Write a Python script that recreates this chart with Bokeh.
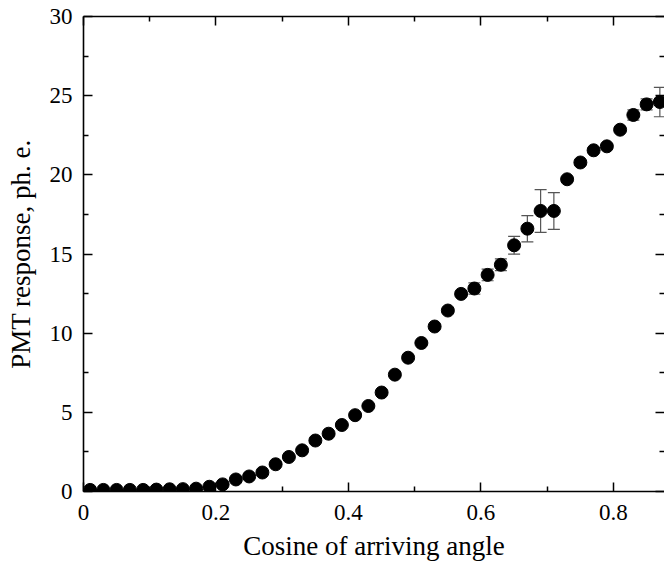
from bokeh.plotting import figure
from bokeh.models import (LinearAxis, Whisker, ColumnDataSource, Range1d,
                          FixedTicker, TeeHead)
from bokeh.embed import file_html
from bokeh.resources import INLINE

cos_angle = [0.01, 0.03, 0.05, 0.07, 0.09, 0.11, 0.13, 0.15, 0.17, 0.19,
             0.21, 0.23, 0.25, 0.27, 0.29, 0.31, 0.33, 0.35, 0.37, 0.39,
             0.41, 0.43, 0.45, 0.47, 0.49, 0.51, 0.53, 0.55, 0.57, 0.59,
             0.61, 0.63, 0.65, 0.67, 0.69, 0.71, 0.73, 0.75, 0.77, 0.79,
             0.81, 0.83, 0.85, 0.87]
response = [0.10, 0.10, 0.10, 0.10, 0.10, 0.12, 0.14, 0.15, 0.18, 0.30,
            0.45, 0.76, 0.95, 1.20, 1.72, 2.18, 2.60, 3.22, 3.65, 4.20,
            4.82, 5.40, 6.25, 7.38, 8.45, 9.38, 10.42, 11.43, 12.48, 12.82,
            13.68, 14.32, 15.55, 16.60, 17.72, 17.72, 19.72, 20.78, 21.55, 21.80,
            22.85, 23.78, 24.45, 24.60]
error = [0.02, 0.02, 0.02, 0.02, 0.02, 0.02, 0.02, 0.02, 0.03, 0.04,
         0.05, 0.06, 0.07, 0.08, 0.09, 0.10, 0.10, 0.10, 0.10, 0.10,
         0.10, 0.10, 0.10, 0.12, 0.12, 0.12, 0.12, 0.15, 0.15, 0.36,
         0.37, 0.37, 0.56, 0.83, 1.35, 1.16, 0.15, 0.15, 0.15, 0.15,
         0.15, 0.32, 0.35, 0.93]

x_major = [0.0, 0.2, 0.4, 0.6, 0.8]
x_minor = [0.1, 0.3, 0.5, 0.7]
y_major = [0, 5, 10, 15, 20, 25, 30]
y_minor = [2.5, 7.5, 12.5, 17.5, 22.5, 27.5]

x_title = "Cosine of arriving angle"
y_title = "PMT response, ph. e."

FONT = "Liberation Serif"

src = ColumnDataSource(dict(
    x=cos_angle, y=response,
    upper=[r + e for r, e in zip(response, error)],
    lower=[r - e for r, e in zip(response, error)],
))

p = figure(width=664, height=567, output_backend="svg", toolbar_location=None,
           x_range=Range1d(0, 0.877), y_range=Range1d(0, 30),
           x_axis_location=None, y_axis_location=None,
           min_border_left=83, min_border_right=0, min_border_top=16,
           min_border_bottom=76)
p.outline_line_color = None
p.xgrid.visible = False
p.ygrid.visible = False
p.background_fill_color = "white"
p.border_fill_color = "white"

xt = FixedTicker(ticks=x_major, minor_ticks=x_minor)
yt = FixedTicker(ticks=y_major, minor_ticks=y_minor)


def style(ax, labels):
    ax.axis_line_width = 1.6
    ax.axis_line_color = "black"
    ax.major_tick_in = 9
    ax.major_tick_out = 0
    ax.minor_tick_in = 5
    ax.minor_tick_out = 0
    ax.major_tick_line_width = 1.5
    ax.minor_tick_line_width = 1.5
    ax.major_tick_line_color = "black"
    ax.minor_tick_line_color = "black"
    if labels:
        ax.major_label_text_font = FONT
        ax.major_label_text_font_size = "23px"
        ax.major_label_text_color = "black"
        ax.axis_label_text_font = FONT
        ax.axis_label_text_font_size = "27px"
        ax.axis_label_text_font_style = "normal"
        ax.axis_label_text_color = "black"
    else:
        ax.major_label_text_font_size = "0px"
        ax.major_label_text_color = None
        ax.major_label_standoff = 0


bottom = LinearAxis(ticker=xt, axis_label=x_title)
style(bottom, True)
bottom.major_label_standoff = 13
bottom.axis_label_standoff = 8
p.add_layout(bottom, "below")

left = LinearAxis(ticker=yt, axis_label=y_title)
style(left, True)
left.major_label_standoff = 11
left.axis_label_standoff = 11
p.add_layout(left, "left")

top = LinearAxis(ticker=xt)
style(top, False)
p.add_layout(top, "above")

right = LinearAxis(ticker=yt)
style(right, False)
right.axis_line_color = None
p.add_layout(right, "right")

p.add_layout(Whisker(source=src, base="x", upper="upper", lower="lower",
                     dimension="height", line_color="#555555", line_width=1.2,
                     upper_head=TeeHead(size=12, line_color="#555555", line_width=1.2),
                     lower_head=TeeHead(size=12, line_color="#555555", line_width=1.2)))

p.scatter("x", "y", source=src, size=13, marker="circle",
          fill_color="black", line_color="black")

open("out.html", "w").write(file_html(p, INLINE))
